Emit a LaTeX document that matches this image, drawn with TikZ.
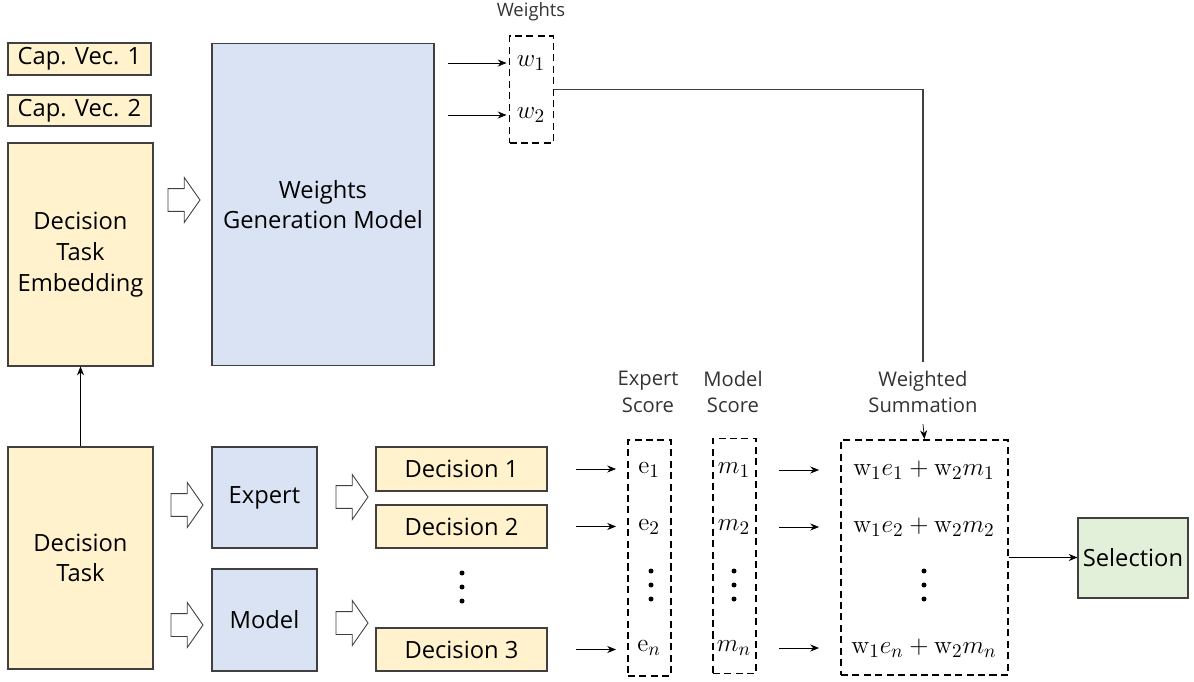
\documentclass[tikz,border=0pt]{standalone}
\usepackage[no-math]{fontspec}
\setmainfont{Open Sans}
\usepackage{amsmath}
\usepackage{tikz}
\usetikzlibrary{arrows.meta,shapes.arrows}

\definecolor{capfill}{HTML}{FFF2CC}
\definecolor{genfill}{HTML}{DAE3F3}
\definecolor{selfill}{HTML}{E2F0D9}
\definecolor{edge}{HTML}{404040}

% three heavy dots in a column
\newcommand{\dotcolumn}[1]{%
  \foreach \dy in {-14,0,14} {\fill ([yshift=-\dy*0.02cm]#1) circle (0.05cm);}}

\begin{document}
\begin{tikzpicture}[x=0.02cm, y=-0.02cm, >={Stealth[length=5pt,width=4pt]},
    box/.style={draw=edge, line width=0.6pt, inner sep=0pt, align=center,
                font=\fontsize{13.5}{17.5}\selectfont},
    yellowbox/.style={box, fill=capfill},
    bluebox/.style={box, fill=genfill},
    dashbox/.style={draw, line width=1.1pt, dash pattern=on 4pt off 2.5pt,
                    minimum width=0.88cm, inner sep=0pt},
    openarrow/.style={single arrow, draw=edge, fill=white, line width=0.5pt,
                      inner sep=0.22cm, single arrow head extend=0.22cm,
                      single arrow tip angle=110, minimum height=0.64cm},
    label/.style={align=center, text=black!80, font=\fontsize{11.5}{15}\selectfont},
    mathtxt/.style={font=\fontsize{15}{18}\selectfont}]
    \useasboundingbox (0,0) rectangle (1194,682);

    % Capability vectors and the embedded task
    \node[yellowbox, minimum width=2.86cm, minimum height=0.64cm] (cap1) at (79.5,59) {Cap. Vec. 1};
    \node[yellowbox, minimum width=2.86cm, minimum height=0.62cm] (cap2) at (79.5,110.5) {Cap. Vec. 2};
    \node[yellowbox, minimum width=2.9cm, minimum height=4.46cm] (emb) at (80.5,254.5) {Decision\\Task\\Embedding};

    % Weight generator
    \node[openarrow] (ar0) at (180,200) {};
    \node[bluebox, minimum width=4.44cm, minimum height=6.46cm] (gen) at (323,204.5) {Weights\\Generation Model};

    % Generated weights
    \node[dashbox, minimum height=2.14cm] (wts) at (531.5,89.5) {};
    \node[mathtxt] (w1) at (531,63) {$w_1$};
    \node[mathtxt] (w2) at (531,115) {$w_2$};
    \node[label, font=\fontsize{10.5}{12}\selectfont] (wlab) at (531,12) {Weights};
    \draw[->] ([xshift=0.26cm]gen.east |- w1) -- ([xshift=-0.04cm]wts.west |- w1);
    \draw[->] ([xshift=0.26cm]gen.east |- w2) -- ([xshift=-0.04cm]wts.west |- w2);

    % Task, expert and model
    \node[yellowbox, minimum width=2.9cm, minimum height=4.44cm] (task) at (80.5,558) {Decision\\Task};
    \draw[->] (task.north) -- (emb.south);
    \node[openarrow] (ar1) at (183,505) {};
    \node[openarrow] (ar2) at (183,625) {};
    \node[bluebox, minimum width=2.1cm, minimum height=2.02cm] (expert) at (264.5,497.5) {Expert};
    \node[bluebox, minimum width=2.1cm, minimum height=2.04cm] (model) at (264.5,620) {Model};
    \node[openarrow] (ar3) at (348,497) {};
    \node[openarrow] (ar4) at (348,623) {};

    % Candidate decisions
    \node[yellowbox, minimum width=3.42cm, minimum height=0.88cm] (dec1) at (461.5,469) {Decision 1};
    \node[yellowbox, minimum width=3.42cm, minimum height=0.86cm] (dec2) at (461.5,526.5) {Decision 2};
    \coordinate (decdots) at (462,587);
    \dotcolumn{decdots}
    \node[yellowbox, minimum width=3.42cm, minimum height=0.86cm] (dec3) at (461.5,649.5) {Decision 3};

    % Expert scores
    \node[label] (elab) at (648,392) {Expert\\Score};
    \node[dashbox, minimum width=0.86cm, minimum height=4.72cm] (ebox) at (649.5,558) {};
    \node[mathtxt] (e1) at (649,470) {$\mathrm{e}_1$};
    \node[mathtxt] (e2) at (649,527) {$\mathrm{e}_2$};
    \coordinate (edots) at (651,585);
    \dotcolumn{edots}
    \node[mathtxt] (en) at (649,648) {$\mathrm{e}_n$};
    \draw[->] ([xshift=0.56cm]dec1.east) -- ([xshift=-0.22cm]ebox.west |- dec1.east);
    \draw[->] ([xshift=0.56cm]dec2.east) -- ([xshift=-0.22cm]ebox.west |- dec2.east);
    \draw[->] ([xshift=0.56cm]dec3.east) -- ([xshift=-0.22cm]ebox.west |- dec3.east);

    % Model scores
    \node[label] (mlab) at (733,392) {Model\\Score};
    \node[dashbox, minimum width=0.86cm, minimum height=4.7cm] (mbox) at (734.5,556) {};
    \node[mathtxt] (m1) at (734,470) {$m_1$};
    \node[mathtxt] (m2) at (734,527) {$m_2$};
    \coordinate (mdots) at (734,585);
    \dotcolumn{mdots}
    \node[mathtxt] (mn) at (734,648) {$m_n$};

    % Weighted summation
    \node[label] (slab) at (923,392) {Weighted\\Summation};
    \node[dashbox, minimum width=3.34cm, minimum height=4.7cm] (sum) at (924.5,557.5) {};
    \node[mathtxt] (s1) at (924,470) {$\mathrm{w}_1e_1+\mathrm{w}_2m_1$};
    \node[mathtxt] (s2) at (924,527) {$\mathrm{w}_1e_2+\mathrm{w}_2m_2$};
    \coordinate (sdots) at (924,585);
    \dotcolumn{sdots}
    \node[mathtxt] (sn) at (924,648) {$\mathrm{w}_1e_n+\mathrm{w}_2m_n$};
    \draw[->] ([xshift=0.44cm]mbox.east |- m1) -- ([xshift=-0.42cm]sum.west |- s1);
    \draw[->] ([xshift=0.44cm]mbox.east |- m2) -- ([xshift=-0.42cm]sum.west |- s2);
    \draw[->] ([xshift=0.44cm]mbox.east |- mn) -- ([xshift=-0.42cm]sum.west |- sn);

    % Weights feed the summation
    \draw[edge, line width=0.6pt] (wts.east) -| ([yshift=0.05cm]slab.north);
    \draw[->] ([yshift=-0.1cm]slab.south) -- (sum.north);

    % Final choice
    \node[box, fill=selfill, minimum width=2.2cm, minimum height=1.6cm] (sel) at (1133,558) {Selection};
    \draw[->] (sum.east) -- (sel.west |- sum.east);
\end{tikzpicture}
\end{document}
